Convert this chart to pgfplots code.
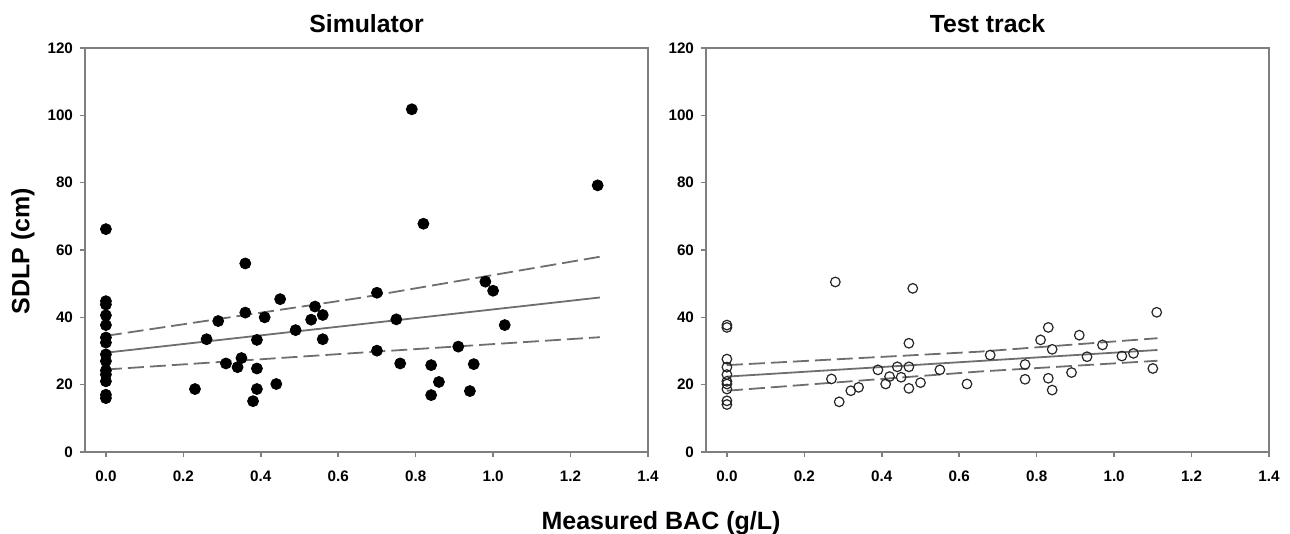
\documentclass[border=0pt]{standalone}
\usepackage{pgfplots}
\pgfplotsset{compat=1.18}
\usepackage{fontspec}
\setmainfont{Liberation Sans}

\definecolor{axgray}{HTML}{7F7F7F}
\definecolor{fitgray}{HTML}{6E6E6E}

% simulator: BAC (g/L) vs SDLP (cm)
\pgfplotstableread{
x y
0 66.2
0 44.8
0 43.8
0 40.6
0 37.7
0 34.0
0 32.5
0 29.0
0 27.0
0 24.2
0 23.0
0 21.0
0 17.0
0 16.0
0.23 18.7
0.26 33.5
0.29 38.9
0.31 26.3
0.34 25.2
0.35 27.9
0.36 56.0
0.36 41.4
0.38 15.1
0.39 24.8
0.39 33.3
0.39 18.7
0.41 40.0
0.44 20.2
0.45 45.4
0.49 36.2
0.53 39.3
0.54 43.2
0.56 40.7
0.56 33.5
0.70 47.3
0.70 30.1
0.75 39.4
0.76 26.3
0.79 101.8
0.82 67.8
0.84 25.8
0.84 16.9
0.86 20.8
0.91 31.3
0.94 18.1
0.95 26.1
0.98 50.6
1.00 47.9
1.03 37.7
1.27 79.2
}\simdata

% test track
\pgfplotstableread{
x y
0 37.7
0 37.0
0 27.6
0 25.2
0 23.0
0 21.0
0 20.2
0 18.7
0 15.2
0 14.1
0.27 21.7
0.28 50.5
0.29 14.9
0.32 18.2
0.34 19.2
0.39 24.4
0.41 20.2
0.42 22.4
0.44 25.3
0.45 22.2
0.47 25.3
0.47 32.3
0.47 18.9
0.48 48.6
0.50 20.6
0.55 24.4
0.62 20.2
0.68 28.8
0.77 26.0
0.77 21.6
0.81 33.3
0.83 37.0
0.83 21.9
0.84 30.5
0.84 18.4
0.89 23.6
0.91 34.7
0.93 28.3
0.97 31.8
1.02 28.5
1.05 29.3
1.10 24.8
1.11 41.5
}\trackdata

\pgfplotsset{
  panel/.style={
    scale only axis,
    width=281.5pt, height=202pt,
    xmin=-0.054, xmax=1.4, ymin=0, ymax=120,
    xtick={0,0.2,...,1.4}, ytick={0,20,...,120},
    xtick pos=bottom, ytick pos=left,
    tick align=outside,
    major tick length=2.5pt,
    axis line style={axgray, line width=1.1pt},
    every tick/.style={axgray, line width=0.8pt},
    tick label style={font=\bfseries\fontsize{7.6}{8}\selectfont},
    /pgf/number format/assume math mode=true,
    xticklabel style={/pgf/number format/.cd, fixed, fixed zerofill, precision=1},
    yticklabel style={/pgf/number format/fixed},
    xticklabel shift=3.5pt,
    title style={font=\bfseries\fontsize{12.4}{14}\selectfont, at={(0.5,1)}, anchor=base, yshift=2pt},
    clip=false,
  },
  fit/.style={fitgray, line width=0.9pt, no marks},
  band/.style={fitgray, line width=0.9pt, no marks, dash pattern=on 8pt off 3pt},
}

\begin{document}
\begin{tikzpicture}
\useasboundingbox (0,0) rectangle (645pt,-267pt);

\begin{axis}[panel, at={(42.5pt,-226pt)}, anchor=south west, title={Simulator}]
  \addplot[only marks, mark=*, mark size=2.75pt, black] table[x=x, y=y] {\simdata};
  \addplot[fit] coordinates {(0,29.5) (1.276,45.9)};
  \addplot[band] coordinates {(0,34.5) (0.657,45.8) (1.276,58.0)};
  \addplot[band] coordinates {(0,24.5) (0.657,29.5) (1.276,34.1)};
\end{axis}

\begin{axis}[panel, at={(353pt,-226pt)}, anchor=south west, title={Test track}]
  \addplot[only marks, mark=o, mark size=2.4pt, black!85, line width=0.6pt] table[x=x, y=y] {\trackdata};
  \addplot[fit] coordinates {(0,22.4) (1.112,30.3)};
  \addplot[band] coordinates {(0,25.8) (0.652,29.8) (1.112,33.8)};
  \addplot[band] coordinates {(0,18.2) (0.652,23.9) (1.112,27.1)};
\end{axis}

\node[rotate=90, font=\bfseries\fontsize{12.5}{14}\selectfont] at (11.5pt,-125.5pt) {SDLP (cm)};
\node[anchor=base, font=\bfseries\fontsize{12.5}{14}\selectfont] at (330.5pt,-264.5pt) {Measured BAC (g/L)};
\end{tikzpicture}
\end{document}
